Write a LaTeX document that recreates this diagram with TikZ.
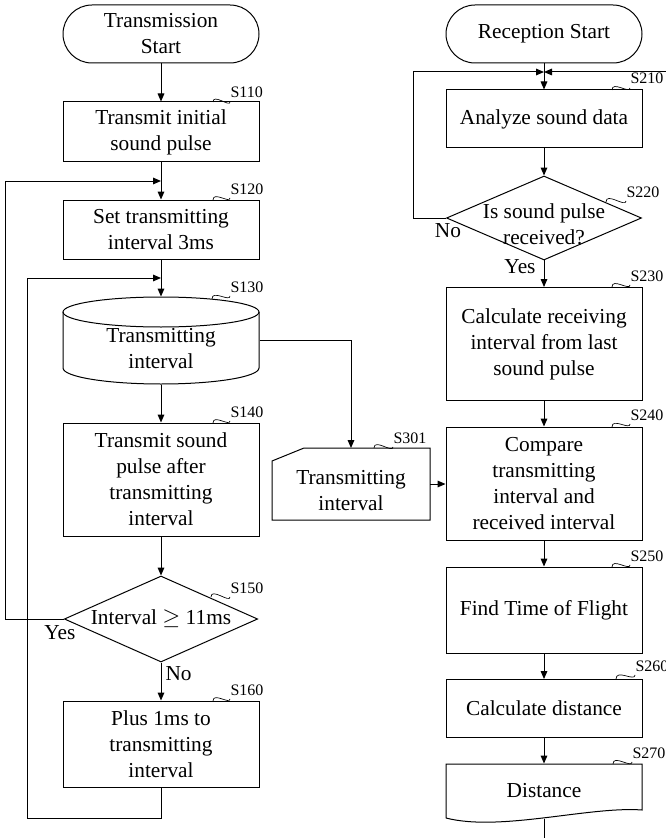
\documentclass[tikz,border=0pt]{standalone}
\usepackage{fontspec}
\setmainfont{Liberation Serif}
\usetikzlibrary{arrows.meta,shapes.geometric}
\begin{document}
\begin{tikzpicture}[x=0.75pt,y=0.75pt]
\fontsize{16}{19.5}\selectfont
\useasboundingbox (0,0) rectangle (666,-838);
\begin{scope}[->,>={Triangle[length=6pt,width=5pt]},line width=0.75pt,
              block1/.style={rectangle,draw,align=center,minimum width=147pt,inner sep=2pt},
              block2/.style={rectangle,align=center,inner sep=0pt},
              term/.style={block1,rounded corners=21.75pt,minimum height=43.5pt},
              cond/.style={diamond,draw,align=center,aspect=2.25,inner sep=0pt,minimum width=145pt,minimum height=64.5pt},
              tag/.style={anchor=base west,inner sep=0pt,font=\fontsize{12}{14}\selectfont},
              wave/.style={-,line width=0.5pt,out=90,in=270,looseness=1.3,shorten >=2.5pt}]
    % transmission side
    \node [term] (tstart) at (161,-34) {Transmission\\Start};
    \node [block1,minimum height=45pt] (s110) at (161,-132) {Transmit initial\\sound pulse};
    \node [block1,minimum height=44.25pt] (s120) at (161,-229.5) {Set transmitting\\interval 3ms};
    \node [block2,minimum width=147pt,minimum height=65.25pt] (s130) at (161,-340.5) {};
    \node [block2] (s130t) at (161,-349) {Transmitting\\interval};
    \node [block1,minimum height=84.75pt] (s140) at (161,-479.5) {Transmit sound\\pulse after\\transmitting\\interval};
    \node [cond] (s150) at (161,-619) {Interval $\geq$ 11ms};
    \node [block1,minimum height=64.5pt] (s160) at (161,-744) {Plus 1ms to\\transmitting\\interval};
    \node (yes150) at (60,-633) {Yes};
    \coordinate (j120) at (161,-181);
    \coordinate (j130) at (161,-278);
    \draw [-] (161,-312) ellipse [x radius=98,y radius=15];
    \draw [-] (63,-312) -- (63,-368) arc [start angle=180,end angle=360,x radius=98,y radius=16] -- (259,-312);
    % reception side
    \node [term] (rstart) at (544,-34) {Reception Start};
    \coordinate (j210) at (544,-72);
    \coordinate (r0) at (666,-72);
    \node [block1,minimum height=43.5pt] (s210) at (544,-119) {Analyze sound data};
    \node [cond,minimum width=146.25pt,minimum height=63pt] (s220) at (544,-218) {};
    \node [block2] (s220t) at (544,-224) {Is sound pulse\\received?};
    \node (no220) at (448,-231) {No};
    \node (yes220) at (520,-267) {Yes};
    \node [block1,minimum height=84.75pt] (s230) at (544,-344) {Calculate receiving\\interval from last\\sound pulse};
    \node [block1,minimum height=84.75pt] (s240) at (544,-483.5) {Compare\\transmitting\\interval and\\received interval};
    \node [block2,minimum width=117.75pt,minimum height=53.25pt] (s301) at (351,-484) {};
    \node [block2] (s301t) at (351,-491) {Transmitting\\interval};
    \draw [-] (s301.north east) -- (s301.south east) -- (s301.south west) -- ([yshift=-9.75pt]s301.north west) -- ([xshift=24pt]s301.north west) -- cycle;
    \node [block1,minimum height=64.5pt] (s250) at (544,-610) {Find Time of Flight};
    \node [block1,minimum height=43.5pt] (s260) at (544,-708.5) {Calculate distance};
    \node [block2,minimum width=147pt,minimum height=40.5pt] (s270) at (544,-791) {Distance};
    \draw [-] (446,-818) -- (446,-764) -- (642,-764) -- (642,-810) .. controls (590,-806) and (500,-832) .. (446,-818);
    \coordinate (end) at (544,-838);
    % step tags
    \node [tag] (t110) at (230,-98) {S110};
    \node [tag] (t120) at (230,-194) {S120};
    \node [tag] (t130) at (230,-292) {S130};
    \node [tag] (t140) at (230,-417) {S140};
    \node [tag] (t150) at (230,-593) {S150};
    \node [tag] (t160) at (230,-695) {S160};
    \node [tag] (t301) at (393,-443) {S301};
    \node [tag] (t210) at (630,-84) {S210};
    \node [tag] (t220) at (626,-197) {S220};
    \node [tag] (t230) at (630,-281) {S230};
    \node [tag] (t240) at (630,-420) {S240};
    \node [tag] (t250) at (630,-561) {S250};
    \node [tag] (t260) at (635,-671) {S260};
    \node [tag] (t270) at (632,-758) {S270};
    \draw [wave] (213,-102) to (t110.south west);
    \draw [wave] (213,-200) to (t120.south west);
    \draw [wave] (212,-299) to (t130.south west);
    \draw [wave] (213,-423) to (t140.south west);
    \draw [wave] (211,-597) to (t150.south west);
    \draw [wave] (213,-701) to (t160.south west);
    \draw [wave] (374,-448) to (t301.south west);
    \draw [wave] (612,-90) to (t210.south west);
    \draw [wave] (606,-202) to (t220.south west);
    \draw [wave] (612,-287) to (t230.south west);
    \draw [wave] (612,-427) to (t240.south west);
    \draw [wave] (612,-567) to (t250.south west);
    \draw [wave] (616,-679) to (t260.south west);
    \draw [wave] (613,-764) to (t270.south west);
    % connectors
    \path (tstart) edge (s110);
    \path (s110) edge (s120);
    \path (s120) edge (s130);
    \path (s130) edge (s140);
    \path (s140) edge (s150);
    \path (s150) edge node [right,inner sep=3pt,pos=0.3] {No} (s160);
    \draw (s150.west) -- ++(-58,0) |- (j120);
    \draw (s160.south) -- ++(0,-31) -- ++(-134,0) |- (j130);
    \draw (s130.east) -| (s301.north);
    \path (rstart) edge (s210);
    \draw (r0) -- (j210);
    \draw (s220.west) -- ++(-33,0) |- (j210);
    \path (s210) edge (s220);
    \path (s220) edge (s230);
    \path (s230) edge (s240);
    \draw (s301.east) -- (s301.east -| s240.west);
    \path (s240) edge (s250);
    \path (s250) edge (s260);
    \path (s260) edge (s270);
    \draw [-] (s270.south) -- (end);
\end{scope}
\end{tikzpicture}
\end{document}
